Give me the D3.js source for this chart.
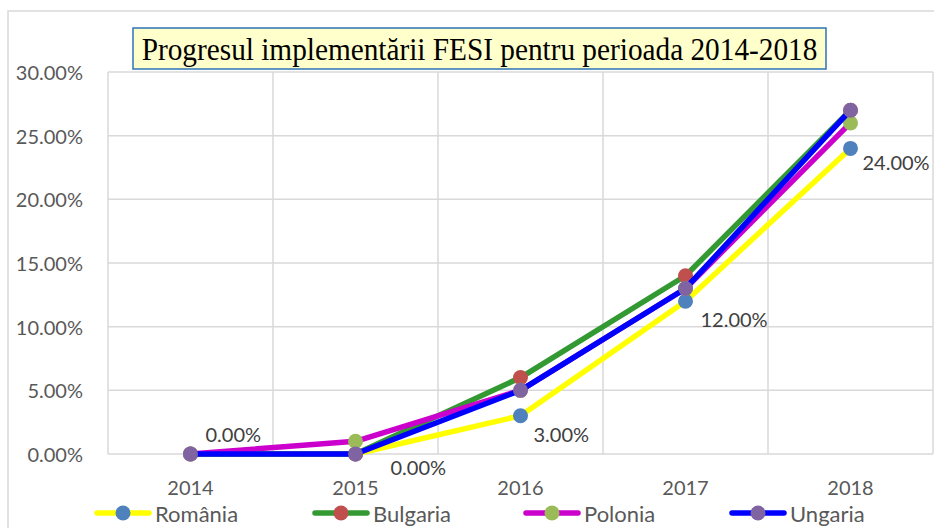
<!DOCTYPE html>
<html><head><meta charset="utf-8">
<script src="https://cdn.jsdelivr.net/npm/d3@7"></script>
<style>body{margin:0;background:#fff;}svg{display:block;}</style>
</head><body><svg id="c" width="934" height="528"></svg>
<script>
const years = ["2014","2015","2016","2017","2018"];
const romania = [0, 0, 3, 12, 24];
const bulgaria = [0, 0, 6, 14, 27];
const polonia = [0, 1, 5, 13, 26];
const ungaria = [0, 0, 5, 13, 27];
const seriesNames = ["România","Bulgaria","Polonia","Ungaria"];
const yTicks = [0, 5, 10, 15, 20, 25, 30];
const titleText = "Progresul implementării FESI pentru perioada 2014-2018";
// label offsets (px) for Romania's data labels
const labelOffsets = [[15,-20],[35,13],[13,18],[15,18],[12,14]];

const lineColors = ["#FFFF00","#339933","#CC00CC","#0000FF"];
const markerColors = ["#4F81BD","#C0504D","#9BBB59","#8064A2"];
const allSeries = [romania, bulgaria, polonia, ungaria];

const svg = d3.select("#c");
const font = "Lato, 'Open Sans', sans-serif";
const L = 108, R = 933, T = 72, B = 454;

// chart border
svg.append("rect").attr("x",8).attr("y",11).attr("width",960).attr("height",560)
  .attr("fill","#fff").attr("stroke","#D9D9D9").attr("stroke-width",1.5);

const x = d3.scaleBand().domain(years).range([L,R]).paddingInner(0).paddingOuter(0);
const y = d3.scaleLinear().domain([0,30]).range([B,T]);
const cx = d => x(d) + x.bandwidth()/2;

// horizontal gridlines
svg.append("g").selectAll("line").data(yTicks).join("line")
  .attr("x1",L).attr("x2",R).attr("y1",d=>y(d)).attr("y2",d=>y(d))
  .attr("stroke","#D9D9D9").attr("stroke-width",1.5);
// vertical gridlines at category boundaries
const bounds = years.map(d=>x(d)).concat([R]);
svg.append("g").selectAll("line").data(bounds).join("line")
  .attr("x1",d=>d).attr("x2",d=>d).attr("y1",T).attr("y2",B)
  .attr("stroke","#D9D9D9").attr("stroke-width",1.5);

// y labels
svg.append("g").selectAll("text").data(yTicks).join("text")
  .attr("x",83).attr("y",d=>y(d)).attr("text-anchor","end").attr("dominant-baseline","central")
  .attr("font-family",font).attr("font-size",20).attr("fill","#595959")
  .text(d=>d3.format(".2f")(d)+"%");
// x labels
svg.append("g").selectAll("text").data(years).join("text")
  .attr("x",d=>cx(d)).attr("y",487).attr("text-anchor","middle").attr("dominant-baseline","central")
  .attr("font-family",font).attr("font-size",20).attr("fill","#595959")
  .text(d=>d);

const line = d3.line().x((d,i)=>cx(years[i])).y(d=>y(d));
allSeries.forEach((s,k)=>{
  svg.append("path").attr("d",line(s)).attr("fill","none")
    .attr("stroke",lineColors[k]).attr("stroke-width",5.5)
    .attr("stroke-linejoin","round").attr("stroke-linecap","round");
  svg.append("g").selectAll("circle").data(s).join("circle")
    .attr("cx",(d,i)=>cx(years[i])).attr("cy",d=>y(d)).attr("r",7.5)
    .attr("fill",markerColors[k]);
});

// data labels (Romania)
svg.append("g").selectAll("text").data(romania).join("text")
  .attr("x",(d,i)=>cx(years[i])+labelOffsets[i][0]).attr("y",(d,i)=>y(d)+labelOffsets[i][1])
  .attr("dominant-baseline","central").attr("font-family",font).attr("font-size",20)
  .attr("fill","#404040").text(d=>d3.format(".2f")(d)+"%");

// title box
svg.append("rect").attr("x",133).attr("y",28).attr("width",693).attr("height",41)
  .attr("fill","#FFFFCC").attr("stroke","#2E75B6").attr("stroke-width",1.5);
const tg = svg.append("g");
const tt = tg.append("text").attr("x",0).attr("y",0).attr("text-anchor","middle")
  .attr("font-family","'Liberation Serif', 'Times New Roman', serif")
  .attr("font-size",31).attr("fill","#000").text(titleText);
const tl = tt.node().getComputedTextLength();
tg.attr("transform",`translate(479.5,60) scale(${676/tl},1)`);

// legend
const legX = [123,341,552,758];
const lg = svg.append("g").selectAll("g").data(seriesNames).join("g")
  .attr("transform",(d,i)=>`translate(${legX[i]},513)`);
lg.append("line").attr("x1",-26).attr("x2",26).attr("stroke",(d,i)=>lineColors[i])
  .attr("stroke-width",5.5).attr("stroke-linecap","round");
lg.append("circle").attr("r",7.5).attr("fill",(d,i)=>markerColors[i]);
lg.append("text").attr("x",32).attr("dominant-baseline","central").attr("font-family",font)
  .attr("font-size",22).attr("fill","#595959").text(d=>d);
</script></body></html>
